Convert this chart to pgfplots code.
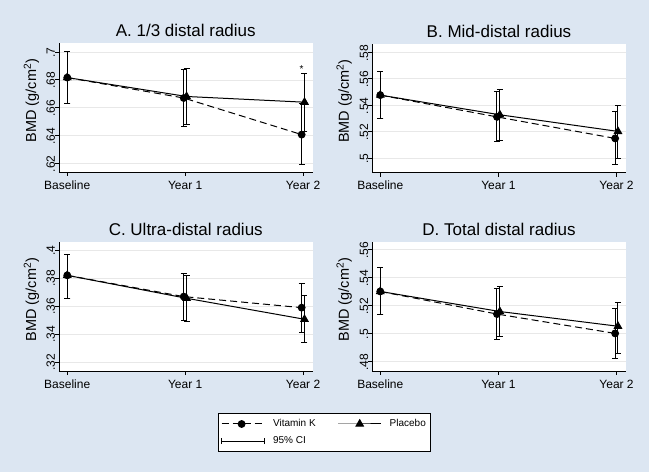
\documentclass[border=0pt]{standalone}
\usepackage{pgfplots}
\pgfplotsset{compat=1.18}
\usepackage{fontspec}
\setmainfont{Liberation Sans}
\definecolor{bgblue}{RGB}{220,230,242}
\definecolor{gridc}{RGB}{232,232,232}
\pgfplotsset{
  panel/.style={
    scale only axis, width=253.5pt, height=128.5pt,
    anchor=south west, clip=false,
    axis background/.style={fill=white},
    axis lines*=left, axis line style={-, line width=0.9pt},
    tick align=outside, major tick length=4pt,
    tick style={line width=0.9pt, black},
    xmin=-0.07, xmax=2.08,
    xtick={0,1,2}, xticklabels={Baseline,Year 1,Year 2},
    ymajorgrids, grid style={gridc, line width=0.8pt},
    /pgf/number format/assume math mode=true,
    tick label style={font=\fontsize{12}{14}\selectfont},
    xticklabel style={anchor=base, inner sep=0pt, yshift=-13.3pt},
    yticklabel style={rotate=90, anchor=base, inner sep=0pt, xshift=-0.5pt},
    every axis title shift=0pt,
    title style={font=\fontsize{17}{20}\selectfont, at={(0.5,1)}, anchor=base, yshift=6.7pt},
    ylabel={BMD (g/cm\textsuperscript{2})},
    ylabel style={font=\fontsize{14.5}{16}\selectfont, at={(axis description cs:-0.0907,0.556)}, anchor=base},
  },
  vkleg/.style={legend image code/.code={\draw[mark repeat=2, mark phase=2, ##1] plot coordinates {(0pt,0pt) (20pt,0pt) (40pt,0pt)};}},
  plleg/.style={legend image code/.code={\draw[mark repeat=2, mark phase=2, ##1] plot coordinates {(0pt,0pt) (21.5pt,0pt) (43pt,0pt)};}},
  ciimg/.style={legend image code/.code={\draw[line width=1pt] (0pt,0pt)--(43pt,0pt); \draw[line width=1pt] (0pt,-3pt)--(0pt,3pt) (43pt,-3pt)--(43pt,3pt);}},
  vk/.style={black, line width=1pt, dash pattern=on 7pt off 4pt, mark=*, mark size=3.4pt, mark options={solid}},
  pl/.style={black, line width=1pt, solid, mark=triangle*, mark size=4.2pt, mark options={solid}},
  ebar/.style={error bars/.cd, y dir=both, y explicit, error mark=|,
     error bar style={solid, line width=1pt, black},
     error mark options={solid, line width=1pt, mark size=3pt, black}},
}
\begin{document}
\begin{tikzpicture}
\fill[bgblue] (0,0) rectangle (649pt,472pt);
\useasboundingbox (0,0) rectangle (649pt,472pt);

% Panel A
\begin{axis}[panel, at={(59pt,300pt)}, title={A. 1/3 distal radius},
  ymin=0.6138, ymax=0.7062,
  ytick={0.62,0.64,0.66,0.68,0.7}, yticklabels={.62,.64,.66,.68,.7}]
\addplot[vk, ebar] coordinates {(0,0.6817) += (0,0.0188) -= (0,0.0189)
  (0.988,0.6670) += (0,0.0203) -= (0,0.0203)
  (1.988,0.6407) += (0,0.0225) -= (0,0.0212)};
\addplot[pl, ebar] coordinates {(0,0.6817) += (0,0.0188) -= (0,0.0189)
  (1.012,0.6681) += (0,0.0204) -= (0,0.0204)
  (2.012,0.6640) += (0,0.0209) -= (0,0.0212)};
\node[font=\fontsize{10}{12}\selectfont] at (axis cs:1.988,0.6875) {*};
\end{axis}

% Panel B
\begin{axis}[panel, at={(372pt,299.3pt)}, width=254pt, title={B. Mid-distal radius},
  ymin=0.4889, ymax=0.5863,
  ytick={0.5,0.52,0.54,0.56,0.58}, yticklabels={.5,.52,.54,.56,.58}]
\addplot[vk, ebar] coordinates {(0,0.5477) += (0,0.0177) -= (0,0.0174)
  (0.988,0.5312) += (0,0.0190) -= (0,0.0189)
  (1.988,0.5149) += (0,0.0202) -= (0,0.0199)};
\addplot[pl, ebar] coordinates {(0,0.5477) += (0,0.0177) -= (0,0.0174)
  (1.012,0.5328) += (0,0.0192) -= (0,0.0192)
  (2.012,0.5202) += (0,0.0199) -= (0,0.0202)};
\end{axis}

% Panel C
\begin{axis}[panel, at={(59pt,101pt)}, title={C. Ultra-distal radius},
  ymin=0.3136, ymax=0.4055,
  ytick={0.32,0.34,0.36,0.38,0.4}, yticklabels={.32,.34,.36,.38,.4},
  legend columns=2, legend cell align=left,
  legend style={at={(axis description cs:1.0473,-0.33)}, anchor=north,
    draw=black, line width=0.8pt, fill=white,
    font=\fontsize{10}{12}\selectfont, inner xsep=3pt, inner ysep=3.8pt,
    row sep=4.5pt,
    /tikz/every odd column/.append style={column sep=6pt},
    /tikz/every even column/.append style={column sep=20pt}}]
\addplot[vkleg, vk, ebar] coordinates {(0,0.3820) += (0,0.0152) -= (0,0.0162)
  (0.988,0.3668) += (0,0.0164) -= (0,0.0168)
  (1.988,0.3589) += (0,0.0171) -= (0,0.0178)};
\addlegendentry{Vitamin K}
\addplot[plleg, pl, ebar] coordinates {(0,0.3820) += (0,0.0152) -= (0,0.0162)
  (1.012,0.3656) += (0,0.0166) -= (0,0.0164)
  (2.012,0.3506) += (0,0.0173) -= (0,0.0166)};
\addlegendentry{Placebo}
\addlegendimage{ciimg}
\addlegendentry{95\% CI}
\end{axis}

% Panel D
\begin{axis}[panel, at={(372pt,101pt)}, width=254pt, title={D. Total distal radius},
  ymin=0.4734, ymax=0.5650,
  ytick={0.48,0.5,0.52,0.54,0.56}, yticklabels={.48,.5,.52,.54,.56}]
\addplot[vk, ebar] coordinates {(0,0.5301) += (0,0.0173) -= (0,0.0166)
  (0.988,0.5140) += (0,0.0182) -= (0,0.0181)
  (1.988,0.5002) += (0,0.0181) -= (0,0.0180)};
\addplot[pl, ebar] coordinates {(0,0.5301) += (0,0.0173) -= (0,0.0166)
  (1.012,0.5158) += (0,0.0176) -= (0,0.0175)
  (2.012,0.5053) += (0,0.0170) -= (0,0.0193)};
\end{axis}
\end{tikzpicture}
\end{document}
